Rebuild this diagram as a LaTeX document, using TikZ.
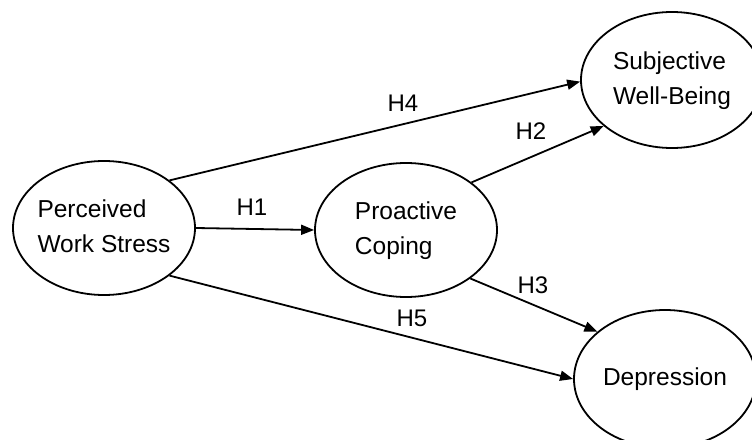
\documentclass[tikz,border=0pt]{standalone}
\usepackage{fontspec}
\setmainfont{Liberation Sans}
\usetikzlibrary{shapes.geometric,arrows.meta}
\newcommand\twolines[2]{\makebox[60pt][c]{\begin{tabular}{@{}l@{}}#1\\#2\end{tabular}}}
\begin{document}
\begin{tikzpicture}[x=1pt,y=-1pt,
  latent/.style={ellipse,draw,line width=1.8pt,minimum width=182pt,minimum height=134pt,inner sep=0pt,font=\fontsize{24.5}{35}\selectfont},
  hyparrow/.style={line width=1.8pt,-{Triangle[length=13pt,width=10pt]}},
  hlab/.style={font=\fontsize{24}{28}\selectfont,inner sep=0pt}]
\useasboundingbox (0,0) rectangle (752,439);
\clip (0,0) rectangle (752,439);
\fill[white] (0,0) rectangle (752,439);
\node[latent] (pws) at (104,228) {\twolines{Perceived}{Work Stress}};
\node[latent] (pc) at (406,230) {\twolines{Proactive}{Coping}};
\node[latent,minimum height=136pt] (swb) at (672,80) {\twolines{Subjective}{Well-Being}};
\node[latent,minimum height=138pt] (dep) at (665,379) {\raisebox{-5pt}{Depression}};
\draw[hyparrow] (pws.east) -- (pc.west);
\draw[hyparrow] (pws.36) -- (swb.181);
\draw[hyparrow] (pc.36) -- (swb.214);
\draw[hyparrow] (pc.323) -- (dep.145);
\draw[hyparrow] (pws.324) -- (dep.180);
\node[hlab] (h1) at (252,207) {H1};
\node[hlab] (h4) at (403,103) {H4};
\node[hlab] (h2) at (531,131) {H2};
\node[hlab] (h3) at (533,285) {H3};
\node[hlab] (h5) at (412,318) {H5};
\end{tikzpicture}
\end{document}
